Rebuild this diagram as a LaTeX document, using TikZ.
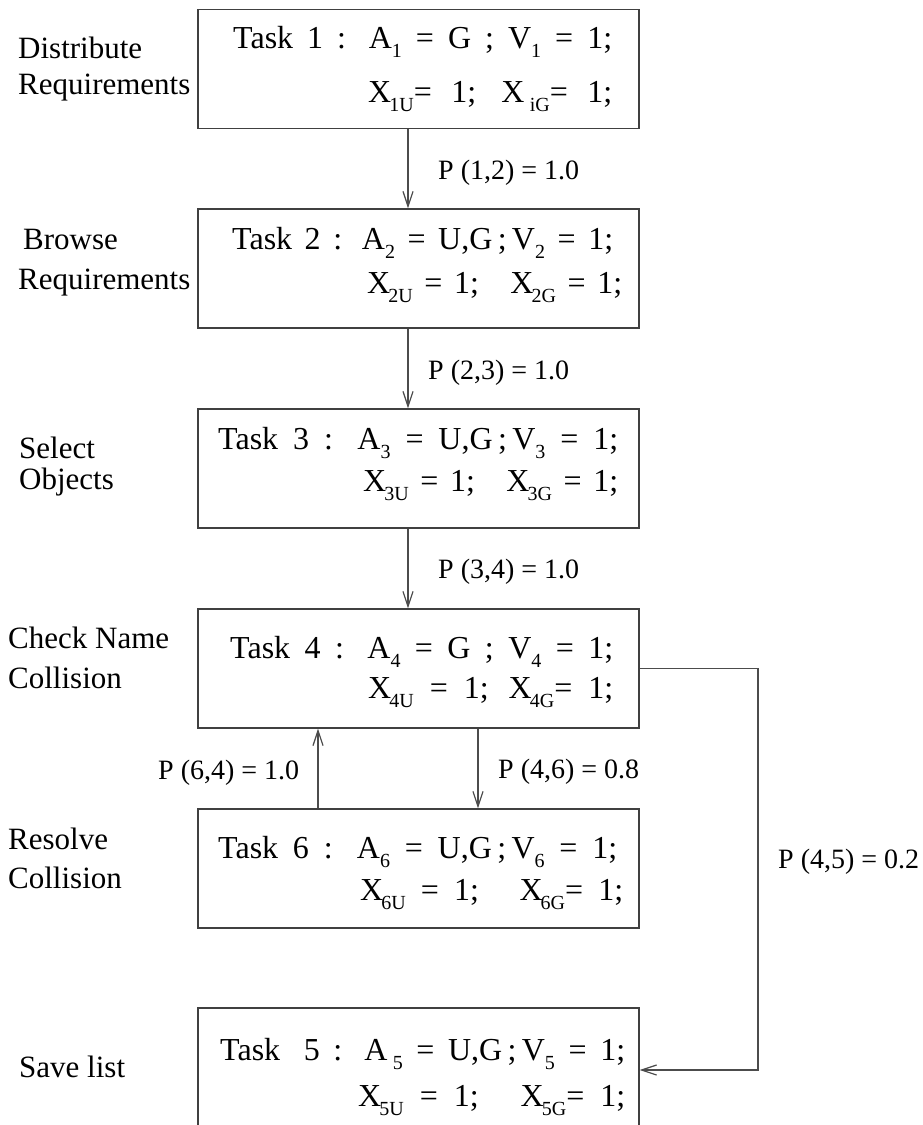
\documentclass[tikz,border=0pt]{standalone}
\usepackage{fontspec}
\setmainfont{Liberation Serif}
\usetikzlibrary{arrows.meta}
% lowered, smaller index text
\newcommand\lo[1]{\raisebox{-9pt}{\fontsize{20}{20}\selectfont #1}}
% one line of a task box, spread to a given width
\newcommand\tline[2]{\makebox[#1pt][s]{#2}}

\begin{document}
\begin{tikzpicture}[x=1pt,y=-1pt,
  box/.style={draw=black!75,line width=1.4pt,minimum width=441pt,minimum height=119pt,inner sep=0pt},
  wire/.style={draw=black!70,line width=1.3pt},
  arr/.style={wire,-{Straight Barb[length=15pt,width=10pt,line width=1.2pt]}},
  side/.style={anchor=base west,inner sep=0pt,font=\fontsize{31}{31}\selectfont},
  task/.style={anchor=base west,inner sep=0pt,font=\fontsize{32}{32}\selectfont},
  prob/.style={anchor=base west,inner sep=0pt,font=\fontsize{28}{28}\selectfont}]

\path[use as bounding box] (0,0) rectangle (923,1125);

% task boxes
\node[box] (t1) at (418.5,69) {};
\node[box] (t2) at (418.5,268.5) {};
\node[box] (t3) at (418.5,468.5) {};
\node[box] (t4) at (418.5,668.5) {};
\node[box] (t6) at (418.5,868.5) {};
\node[box,minimum height=150pt] (t5) at (418.5,1083) {};

% box contents
\node[task] (t1a) at (233,48)  {\tline{379}{Task 1 : A\lo{1} = G ; V\lo{1} = 1;}};
\node[task] (t1b) at (368,102) {\tline{244}{X\kern-2pt\lo{1U}= 1; X\,\lo{iG}= 1;}};

\node[task] (t2a) at (232,249) {\tline{381}{Task 2 : A\lo{2} = U,G\,;\,V\lo{2} = 1;}};
\node[task] (t2b) at (367,293) {\tline{255}{X\kern-2pt\lo{2U} = 1;\hspace{18pt} X\kern-2pt\lo{2G} = 1;}};

\node[task] (t3a) at (218,449) {\tline{400}{Task 3 : A\lo{3} = U,G\,;\,V\lo{3} = 1;}};
\node[task] (t3b) at (363,491) {\tline{255}{X\kern-2pt\lo{3U} = 1;\hspace{18pt} X\kern-2pt\lo{3G} = 1;}};

\node[task] (t4a) at (230,658) {\tline{383}{Task 4 : A\lo{4} = G ; V\lo{4} = 1;}};
\node[task] (t4b) at (368,698) {\tline{245}{X\kern-2pt\lo{4U} = 1; X\kern-2pt\lo{4G}= 1;}};

\node[task] (t6a) at (218,858) {\tline{399}{Task 6 : A\lo{6} = U,G\,;\,V\lo{6} = 1;}};
\node[task] (t6b) at (360,900) {\tline{263}{X\kern-2pt\lo{6U} = 1;\hspace{22pt} X\kern-2pt\lo{6G}= 1;}};

\node[task] (t5a) at (220,1060) {\tline{405}{Task\hspace{10pt} 5 : A\,\lo{5} = U,G\,;\,V\lo{5} = 1;}};
\node[task] (t5b) at (358,1106) {\tline{267}{X\kern-2pt\lo{5U} = 1;\hspace{22pt} X\kern-2pt\lo{5G}= 1;}};

% activity names
\node[side] (n1a) at (18,58)   {Distribute};
\node[side] (n1b) at (18,94)   {Requirements};
\node[side] (n2a) at (23,249)  {Browse};
\node[side] (n2b) at (18,289)  {Requirements};
\node[side] (n3a) at (19,458)  {Select};
\node[side] (n3b) at (19,489)  {Objects};
\node[side] (n4a) at (8,648)   {Check Name};
\node[side] (n4b) at (8,688)   {Collision};
\node[side] (n6a) at (8,849)   {Resolve};
\node[side] (n6b) at (8,888)   {Collision};
\node[side] (n5)  at (19,1077) {Save list};

% transitions
\coordinate (c1) at (408,0);
\coordinate (cu) at (318,0);
\coordinate (cd) at (478,0);
\coordinate (cr) at (758,0);
\coordinate (ce) at (0,1070);

\draw[arr] (t1.south -| c1) -- (t2.north -| c1);
\draw[arr] (t2.south -| c1) -- (t3.north -| c1);
\draw[arr] (t3.south -| c1) -- (t4.north -| c1);
\draw[arr] (t6.north -| cu) -- (t4.south -| cu);
\draw[arr] (t4.south -| cd) -- (t6.north -| cd);
\draw[arr] (t4.east) -| (cr |- ce) -- (t5.east |- ce);

% transition probabilities
\node[prob] (p12) at (438,179) {P (1,2) = 1.0};
\node[prob] (p23) at (428,379) {P (2,3) = 1.0};
\node[prob] (p34) at (438,578) {P (3,4) = 1.0};
\node[prob] (p64) at (158,779) {P (6,4) = 1.0};
\node[prob] (p46) at (498,778) {P (4,6) = 0.8};
\node[prob] (p45) at (778,868) {P (4,5) = 0.2};
\end{tikzpicture}
\end{document}
